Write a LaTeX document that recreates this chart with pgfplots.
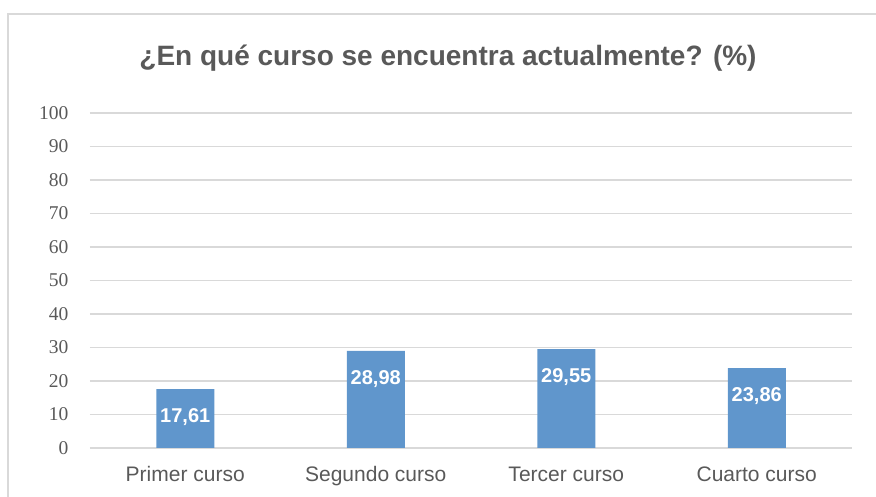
\documentclass[border=0pt]{standalone}
\usepackage{pgfplots}
\pgfplotsset{compat=1.18}
\usepackage{fontspec}
\setmainfont{Liberation Sans}
\newfontfamily\tickfont{Liberation Serif}
\definecolor{barblue}{RGB}{96,150,204}
\definecolor{gridgray}{RGB}{217,217,217}
\definecolor{txtgray}{RGB}{89,89,89}
\definecolor{framegray}{RGB}{217,217,217}
\begin{document}
\begin{tikzpicture}[x=1pt,y=1pt]
\useasboundingbox (0,0) rectangle (876,497);
\draw[framegray,line width=1.5pt] (8,-10) rectangle (890,483);
\node[font=\bfseries\fontsize{28}{32}\selectfont,text=txtgray] at (448,439) {¿En qué curso se encuentra actualmente? (\%)};
\begin{axis}[
  at={(90pt,49pt)}, anchor=south west,
  scale only axis, width=762pt, height=335pt,
  xmin=-0.5, xmax=3.5, ymin=0, ymax=100,
  ytick={0,10,...,100},
  xtick={0,1,2,3},
  xticklabels={Primer curso,Segundo curso,Tercer curso,Cuarto curso},
  axis line style={draw=none},
  major tick length=0pt,
  ymajorgrids, grid style={gridgray,line width=1.2pt},
  /pgf/number format/assume math mode=true,
  yticklabel style={font=\tickfont\fontsize{19.5}{22}\selectfont,text=txtgray,xshift=-18pt},
  xticklabel style={font=\fontsize{21}{24}\selectfont,text=txtgray,yshift=-15pt,text height=15pt,text depth=4pt},
  ybar, bar width=58pt,
  nodes near coords,
  nodes near coords style={font=\bfseries\fontsize{20}{24}\selectfont,text=white,anchor=center,yshift=-28pt},
  point meta=explicit symbolic,
]
\addplot[fill=barblue,draw=none] coordinates {(0,17.61)[17,61] (1,28.98)[28,98] (2,29.55)[29,55] (3,23.86)[23,86]};
\end{axis}
\end{tikzpicture}
\end{document}
